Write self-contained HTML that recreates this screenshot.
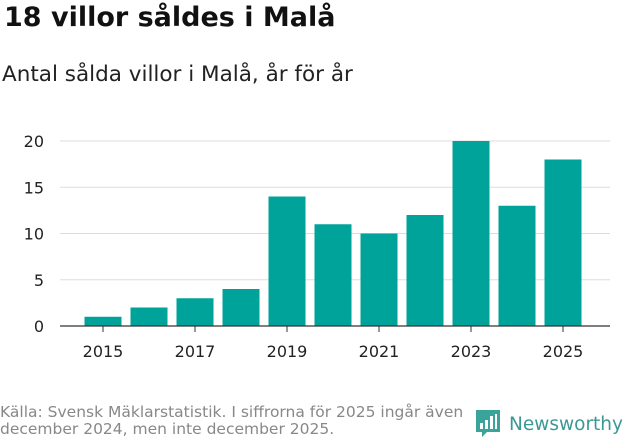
<!DOCTYPE html>
<html><head><meta charset="utf-8"><style>
body{margin:0;width:631px;height:439px;background:#fff;font-family:"DejaVu Sans","Liberation Sans",sans-serif;overflow:hidden;position:relative}
#t{position:absolute;left:4px;top:2px;font-size:27px;font-weight:bold;color:#111}
#s{position:absolute;left:2px;top:62px;font-size:21.5px;color:#222}
#src{position:absolute;left:0px;top:404px;font-size:15.5px;line-height:17px;color:#888;white-space:nowrap}
</style></head><body>
<div id="t">18 villor såldes i Malå</div>
<div id="s">Antal sålda villor i Malå, år för år</div>
<svg id="c" width="631" height="439" style="position:absolute;left:0;top:0"></svg>
<div id="src">Källa: Svensk Mäklarstatistik. I siffrorna för 2025 ingår även<br>december 2024, men inte december 2025.</div>
<svg width="160" height="40" style="position:absolute;left:472px;top:404px">
<path d="M4 6h24v22H15l-5 5v-5H4z" fill="#3aa39a"/>
<rect x="8" y="19" width="3" height="6" fill="#fff"/><rect x="13" y="16" width="3" height="9" fill="#fff"/><rect x="18" y="12" width="3" height="13" fill="#fff"/><rect x="23" y="10" width="2" height="15" fill="#fff"/>
<text x="37" y="26" font-size="18.5" fill="#3a9a93" font-family="DejaVu Sans, sans-serif">Newsworthy</text>
</svg>
<script>
const years=[2015,2016,2017,2018,2019,2020,2021,2022,2023,2024,2025];
const values=[1,2,3,4,14,11,10,12,20,13,18];
const yTicks=[0,5,10,15,20];
const NS="http://www.w3.org/2000/svg";
const svg=document.getElementById('c');
const y=v=>326-v*9.25;
const x=i=>103+i*46;
function mk(tag,a){const e=document.createElementNS(NS,tag);for(const k in a)e.setAttribute(k,a[k]);svg.appendChild(e);return e;}
yTicks.forEach(t=>{
 if(t>0){const g=mk('line',{x1:60,x2:610,y1:y(t),y2:y(t),stroke:'#ddd','stroke-width':1});
 
 }
 const l=mk('text',{x:44,y:y(t)+6,'text-anchor':'end','font-size':16,fill:'#222'});l.textContent=t;
 
 
});
values.forEach((v,i)=>{
 const b=mk('rect',{x:x(i)-18.5,y:y(v),width:37,height:y(0)-y(v),fill:'#00a39a'});
 
 
 if(i%2==0){
  mk('line',{x1:x(i),x2:x(i),y1:326,y2:332,stroke:'#333'});
  const l=mk('text',{x:x(i),y:357,'text-anchor':'middle','font-size':16,fill:'#222'});l.textContent=years[i];
  
  
 }
});
const ax=mk('line',{x1:60,x2:610,y1:326,y2:326,stroke:'#333','stroke-width':1.2});


</script>
</body></html>
